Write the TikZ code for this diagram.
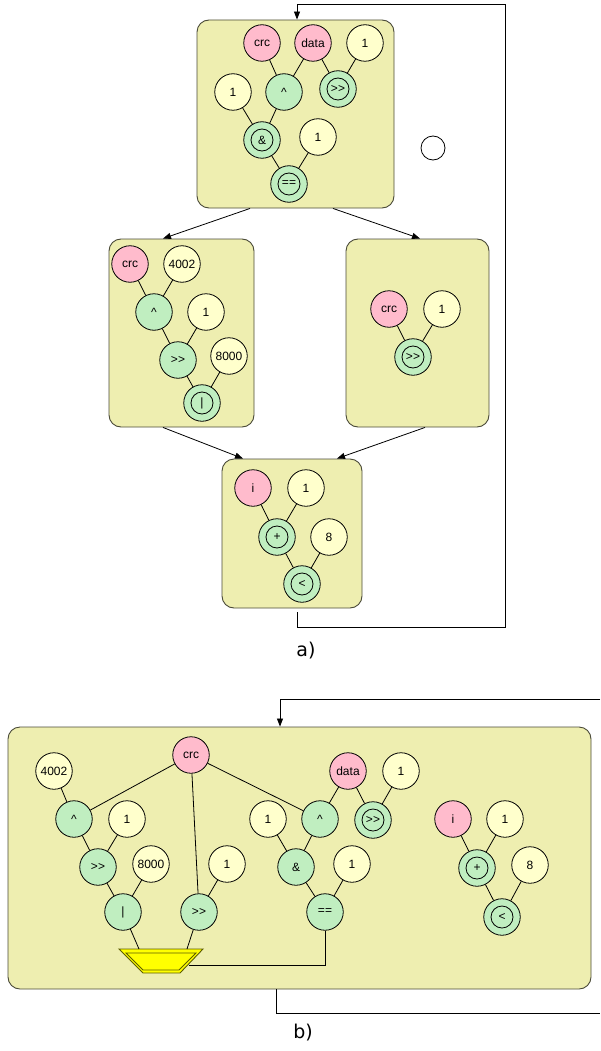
\documentclass[tikz,border=0pt]{standalone}
\usepackage{fontspec}
\setmainfont{Liberation Sans}
\newfontfamily\labelfont{DejaVu Sans}
\usetikzlibrary{arrows.meta}

\definecolor{boxfill}{HTML}{EEEEB0}
\definecolor{boxline}{HTML}{4A4A38}
\definecolor{varfill}{HTML}{FFBBCC}
\definecolor{cstfill}{HTML}{FFFFCC}
\definecolor{opfill}{HTML}{C0EEC0}
\definecolor{muxfill}{HTML}{FFFF00}
\definecolor{muxline}{HTML}{5C5C00}

\tikzset{
  blk/.style={rectangle, rounded corners=12pt, draw=boxline, fill=boxfill,
    line width=0.9pt, inner sep=0pt},
  nd/.style={circle, draw=black, line width=0.8pt, minimum size=36.5pt,
    inner sep=0pt, font=\fontsize{12}{14}\selectfont},
  var/.style={nd, fill=varfill},
  cst/.style={nd, fill=cstfill},
  op/.style={nd, fill=opfill},
  dop/.style={op, path picture={\draw[line width=0.8pt]
    (path picture bounding box.center) circle (11pt);}},
  edge/.style={line width=0.8pt},
  flow/.style={line width=0.8pt, -{Triangle[length=8pt,width=6pt]}},
  lbl/.style={font=\labelfont\fontsize{19}{22}\selectfont},
}

% shift-right operator, kept as two separate glyphs
\newcommand{\shr}{\textgreater\kern0.4pt\textgreater}

\begin{document}
\begin{tikzpicture}[x=1pt, y=-1pt]
\useasboundingbox (0,0) rectangle (600,1051);

% ---------------- a) blocks ----------------
\node[blk, minimum width=197pt, minimum height=188pt] (topA) at (295.5,114) {};
\node[blk, minimum width=145pt, minimum height=188pt] (midL) at (181.5,333) {};
\node[blk, minimum width=143pt, minimum height=188pt] (midR) at (417.5,333) {};
\node[blk, minimum width=140pt, minimum height=149pt] (botA) at (292,533.5) {};

% top block
\node[var] (acrc)  at (262,43) {crc};
\node[var] (adata) at (313,43) {data};
\node[cst] (ac1)   at (365,43) {1};
\node[cst] (ac2)   at (233,92) {1};
\node[op]  (axor)  at (284,92) {\textasciicircum};
\node[dop] (ashr)  at (338,89) {\shr};
\node[dop] (aand)  at (262,140) {\&};
\node[cst] (ac3)   at (318,137) {1};
\node[dop] (aeq)   at (289,184) {==};
\node[circle, draw=black, fill=white, line width=0.8pt, minimum size=24pt,
  inner sep=0pt] (afree) at (433,148) {};

\draw[edge] (acrc) -- (axor);
\draw[edge] (adata) -- (axor);
\draw[edge] (adata) -- (ashr);
\draw[edge] (ac1) -- (ashr);
\draw[edge] (ac2) -- (aand);
\draw[edge] (axor) -- (aand);
\draw[edge] (aand) -- (aeq);
\draw[edge] (ac3) -- (aeq);

% middle left block
\node[var] (lcrc)  at (130,264) {crc};
\node[cst] (l4002) at (182,264) {4002};
\node[op]  (lxor)  at (154,312) {\textasciicircum};
\node[cst] (lc1)   at (206,312) {1};
\node[op]  (lshr)  at (178,360) {\shr};
\node[cst] (l8000) at (229,356) {8000};
\node[dop] (lor)   at (202,403) {\textbar};

\draw[edge] (lcrc) -- (lxor);
\draw[edge] (l4002) -- (lxor);
\draw[edge] (lxor) -- (lshr);
\draw[edge] (lc1) -- (lshr);
\draw[edge] (lshr) -- (lor);
\draw[edge] (l8000) -- (lor);

% middle right block
\node[var] (rcrc) at (389,309) {crc};
\node[cst] (rc1)  at (442,309) {1};
\node[dop] (rshr) at (413,357) {\shr};

\draw[edge] (rcrc) -- (rshr);
\draw[edge] (rc1) -- (rshr);

% bottom block
\node[var] (bi)    at (253,488) {i};
\node[cst] (bc1)   at (306,488) {1};
\node[dop] (bplus) at (277,537) {+};
\node[cst] (bc8)   at (329,537) {8};
\node[dop] (blt)   at (302,584) {\textless};

\draw[edge] (bi) -- (bplus);
\draw[edge] (bc1) -- (bplus);
\draw[edge] (bplus) -- (blt);
\draw[edge] (bc8) -- (blt);

% control flow between blocks
\draw[flow] ([xshift=-45.5pt]topA.south) -- ([xshift=-18.5pt]midL.north);
\draw[flow] ([xshift=37.5pt]topA.south) -- ([xshift=2.5pt]midR.north);
\draw[flow] ([xshift=-18.5pt]midL.south) -- ([xshift=-49pt]botA.north);
\draw[flow] ([xshift=7.5pt]midR.south) -- ([xshift=45pt]botA.north);

% loop back edge
\coordinate (fbA1) at (505,627);
\coordinate (fbA2) at (505,4);
\draw[flow] ([xshift=5pt,yshift=-4pt]botA.south) |- (fbA1) -- (fbA2)
  -| ([xshift=1.5pt]topA.north);

\node[lbl] (labA) at (306,651) {a)};

% ---------------- b) merged block ----------------
\node[blk, minimum width=583pt, minimum height=262pt] (boxB) at (299.5,858) {};

\node[var] (crc)   at (191,755) {crc};
\node[cst] (c4002) at (54,771) {4002};
\node[op]  (xorL)  at (74,819) {\textasciicircum};
\node[cst] (c1a)   at (127,819) {1};
\node[op]  (shrL)  at (98,867) {\shr};
\node[cst] (c8000) at (151,864) {8000};
\node[op]  (orL)   at (123,912) {\textbar};
\node[cst] (c1b)   at (227,864) {1};
\node[op]  (shrM)  at (199,912) {\shr};
\node[cst] (c1c)   at (268,819) {1};
\node[op]  (andB)  at (296,867) {\&};
\node[op]  (xorR)  at (320,819) {\textasciicircum};
\node[var] (data)  at (348,771) {data};
\node[cst] (c1d)   at (401,771) {1};
\node[dop] (shrR)  at (373,820) {\shr};
\node[cst] (c1e)   at (352,864) {1};
\node[op]  (eqB)   at (325,912) {==};
\node[var] (iB)    at (453,819) {i};
\node[cst] (c1f)   at (505,819) {1};
\node[dop] (plusB) at (477,868) {+};
\node[cst] (c8)    at (530,865) {8};
\node[dop] (ltB)   at (502,917) {\textless};

% selector
\draw[draw=muxline, fill=muxfill, line width=0.9pt]
  (119,949) -- (203,949) -- (180,973) -- (143,973) -- cycle;
\draw[draw=muxline, line width=0.9pt]
  (126,953) -- (196,953) -- (179,970) -- (143,970) -- cycle;
\coordinate (muxL) at (139,949);
\coordinate (muxM) at (187,949);
\coordinate (muxR) at (189,965);

\draw[edge] (crc) -- (xorL);
\draw[edge] (crc) -- (shrM);
\draw[edge] (crc) -- (xorR);
\draw[edge] (c4002) -- (xorL);
\draw[edge] (xorL) -- (shrL);
\draw[edge] (c1a) -- (shrL);
\draw[edge] (shrL) -- (orL);
\draw[edge] (c8000) -- (orL);
\draw[edge] (orL) -- (muxL);
\draw[edge] (c1b) -- (shrM);
\draw[edge] (shrM) -- (muxM);
\draw[edge] (c1c) -- (andB);
\draw[edge] (xorR) -- (andB);
\draw[edge] (andB) -- (eqB);
\draw[edge] (c1e) -- (eqB);
\draw[edge] (eqB) |- (muxR);
\draw[edge] (data) -- (xorR);
\draw[edge] (data) -- (shrR);
\draw[edge] (c1d) -- (shrR);
\draw[edge] (iB) -- (plusB);
\draw[edge] (c1f) -- (plusB);
\draw[edge] (plusB) -- (ltB);
\draw[edge] (c8) -- (ltB);

% loop edges leaving the picture on the right
\coordinate (fbB1) at (600,699);
\coordinate (fbB2) at (600,1013);
\draw[flow] (fbB1) -| ([xshift=-19.5pt]boxB.north);
\draw[edge] ([xshift=-23.5pt]boxB.south) |- (fbB2);

\node[lbl] (labB) at (303,1033) {b)};
\end{tikzpicture}
\end{document}
